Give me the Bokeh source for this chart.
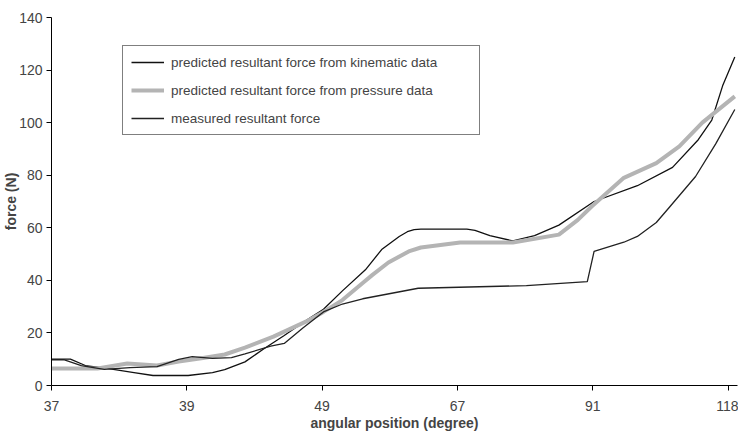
from bokeh.plotting import figure
from bokeh.models import Range1d, FixedTicker, Legend, LegendItem
from bokeh.embed import file_html
from bokeh.resources import INLINE

# x positions are expressed in tick-index units along the angular-position axis
angle_labels = ["37", "39", "49", "67", "91", "118"]
y_ticks = [0, 20, 40, 60, 80, 100, 120, 140]

kin_x = [0.00, 0.14, 0.25, 0.41, 0.61, 0.75, 1.01, 1.19, 1.28, 1.43, 1.57, 1.72, 1.86, 2.01, 2.15,
         2.32, 2.44, 2.57, 2.63, 2.68, 2.73, 3.07, 3.13, 3.24, 3.41, 3.57, 3.75, 4.01, 4.33, 4.59,
         4.78, 4.88, 4.96, 5.05]
kin_y = [10, 10, 7.6, 6.5, 4.9, 3.8, 3.8, 4.9, 6, 9, 14, 19, 24, 29, 36,
         44, 51.7, 56.7, 58.5, 59.3, 59.5, 59.5, 59, 57, 55, 57, 61, 70, 76, 83,
         93.5, 101, 114, 125]

pres_x = [0.00, 0.34, 0.56, 0.78, 0.94, 1.12, 1.28, 1.43, 1.64, 1.88, 2.01, 2.15, 2.30, 2.37,
          2.49, 2.64, 2.73, 3.02, 3.41, 3.75, 3.89, 3.99, 4.23, 4.47, 4.64, 4.81, 5.05]
pres_y = [6.5, 6.5, 8.4, 7.6, 9.1, 10.5, 11.8, 14.4, 18.6, 24.3, 28, 32.5, 39, 42,
          46.8, 51, 52.5, 54.4, 54.4, 57.4, 63, 68, 79, 84.6, 91, 100, 110]

meas_x = [0.00, 0.09, 0.22, 0.39, 0.58, 0.78, 0.94, 1.04, 1.19, 1.33, 1.43, 1.62, 1.72, 1.86,
          2.01, 2.15, 2.30, 2.71, 3.51, 3.96, 4.01, 4.23, 4.33, 4.47, 4.57, 4.76, 4.91, 5.05]
meas_y = [9.8, 9.8, 7.6, 6.1, 6.8, 7.2, 9.9, 11, 10.3, 10.6, 12, 15, 16, 22,
          28, 31, 33, 37, 38, 39.5, 51, 54.5, 56.7, 62, 68, 79.5, 92, 105]

FONT = "Liberation Sans"

p = figure(width=738, height=434, output_backend="svg", toolbar_location=None,
           x_range=Range1d(0, 5.07), y_range=Range1d(0, 140),
           min_border_left=45, min_border_right=1, min_border_top=17, min_border_bottom=49)
p.outline_line_color = None
p.xgrid.visible = False
p.ygrid.visible = False
p.background_fill_color = "white"
p.border_fill_color = "white"

r_kin = p.line(kin_x, kin_y, line_color="#111111", line_width=1.3)
r_pres = p.line(pres_x, pres_y, line_color="#b4b4b4", line_width=4)
r_meas = p.line(meas_x, meas_y, line_color="#222222", line_width=1.3)

xa = p.xaxis[0]
xa.ticker = FixedTicker(ticks=list(range(len(angle_labels))))
xa.major_label_overrides = {i: lab for i, lab in enumerate(angle_labels)}
xa.minor_tick_line_color = None
xa.major_tick_in = 0
xa.major_tick_out = 5
xa.major_label_standoff = 10
xa.axis_label = "angular position (degree)"
xa.axis_label_standoff = 1
xa.axis_label_text_font = FONT
xa.axis_label_text_font_style = "bold"
xa.axis_label_text_font_size = "14px"
xa.major_label_text_font = FONT
xa.major_label_text_font_size = "14px"
xa.axis_line_color = "black"

ya = p.yaxis[0]
ya.ticker = FixedTicker(ticks=y_ticks)
ya.minor_tick_line_color = None
ya.major_tick_in = 0
ya.major_tick_out = 5
ya.major_label_standoff = 4
ya.axis_label = "force (N)"
ya.axis_label_standoff = -3
ya.axis_label_text_font = FONT
ya.axis_label_text_font_style = "bold"
ya.axis_label_text_font_size = "14px"
ya.major_label_text_font = FONT
ya.major_label_text_font_size = "14px"
ya.axis_line_color = "black"

legend = Legend(items=[
    LegendItem(label="predicted resultant force from kinematic data", renderers=[r_kin]),
    LegendItem(label="predicted resultant force from pressure data", renderers=[r_pres]),
    LegendItem(label="measured resultant force", renderers=[r_meas]),
], location=(71, 250))
legend.border_line_color = "black"
legend.border_line_width = 1
legend.background_fill_color = "white"
legend.background_fill_alpha = 1
legend.padding = 8
legend.spacing = 12
legend.glyph_width = 33
legend.glyph_height = 16
legend.label_height = 16
legend.label_width = 300
legend.label_standoff = 7
legend.label_text_font = FONT
legend.label_text_font_size = "13.5px"
legend.margin = 0
p.add_layout(legend)

open("out.html", "w").write(file_html(p, INLINE))
